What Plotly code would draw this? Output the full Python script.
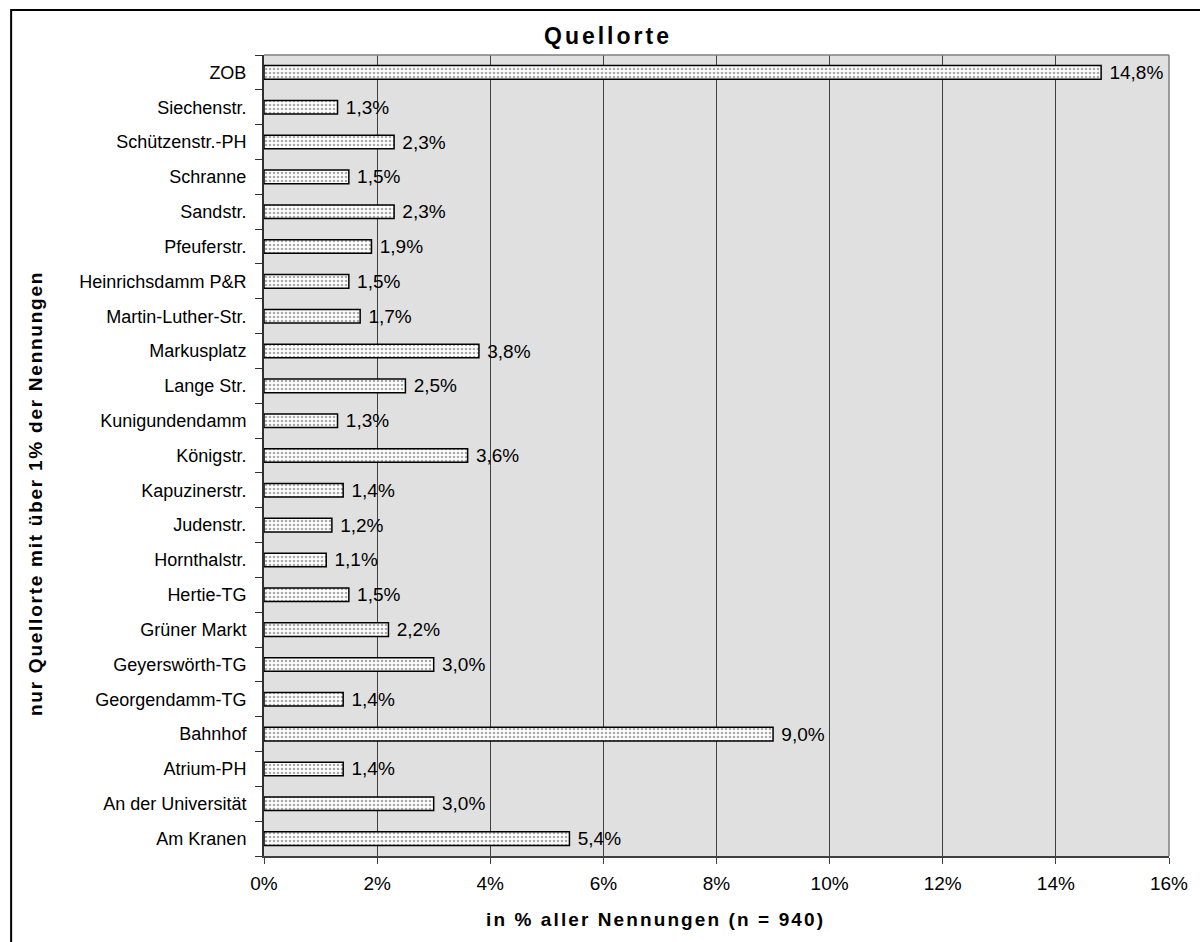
import plotly.graph_objects as go

# Source locations (bottom to top) and share of all mentions in percent
orte = [
    "Am Kranen", "An der Universität", "Atrium-PH", "Bahnhof", "Georgendamm-TG",
    "Geyerswörth-TG", "Grüner Markt", "Hertie-TG", "Hornthalstr.", "Judenstr.",
    "Kapuzinerstr.", "Königstr.", "Kunigundendamm", "Lange Str.", "Markusplatz",
    "Martin-Luther-Str.", "Heinrichsdamm P&R", "Pfeuferstr.", "Sandstr.", "Schranne",
    "Schützenstr.-PH", "Siechenstr.", "ZOB",
]
anteile = [5.4, 3.0, 1.4, 9.0, 1.4, 3.0, 2.2, 1.5, 1.1, 1.2, 1.4, 3.6, 1.3, 2.5,
           3.8, 1.7, 1.5, 1.9, 2.3, 1.5, 2.3, 1.3, 14.8]

x_ticks = [0, 2, 4, 6, 8, 10, 12, 14, 16]


def spaced(txt, px):
    """Wrap text in a span with extra letter spacing."""
    return f'<span style="letter-spacing:{px}px">{txt}</span>'


x_ticktext = [f"{v}%" for v in x_ticks]
labels = [" " + f"{v:.1f}%".replace(".", ",") for v in anteile]

FONT = "Liberation Sans, Arial, sans-serif"

fig = go.Figure()
fig.add_trace(go.Bar(
    x=anteile,
    y=orte,
    orientation="h",
    width=0.39,
    marker=dict(
        color="white",
        line=dict(color="black", width=1.5),
        pattern=dict(shape=".", fgcolor="#555555", bgcolor="white", size=4, solidity=0.35),
    ),
    text=labels,
    textposition="outside",
    constraintext="none",
    textfont=dict(family=FONT, size=19, color="black"),
    cliponaxis=False,
    hoverinfo="skip",
))

W, H = 1200, 942
L, R, T, B = 264, 27, 55, 86
pw, ph = W - L - R, H - T - B


def px_x(p):
    return (p - L) / pw


def px_y(p):
    return (H - B - p) / ph


fig.update_layout(
    width=W, height=H,
    margin=dict(l=L, r=R, t=T, b=B),
    paper_bgcolor="white",
    plot_bgcolor="#e0e0e0",
    showlegend=False,
    font=dict(family=FONT, size=18, color="black"),
    xaxis=dict(
        range=[0, 16],
        tickvals=x_ticks,
        ticktext=x_ticktext,
        showgrid=True,
        gridcolor="#404040",
        gridwidth=1,
        zeroline=False,
        showline=True,
        linecolor="#404040",
        linewidth=2,
        ticks="outside",
        ticklen=6,
        tickcolor="#404040",
        tickfont=dict(size=19),
        ticklabelstandoff=3,
        fixedrange=True,
    ),
    yaxis=dict(
        type="category",
        categoryorder="array",
        categoryarray=orte,
        range=[-0.5, len(orte) - 0.5],
        showgrid=False,
        showline=True,
        linecolor="#303030",
        linewidth=2,
        ticks="outside",
        tickson="boundaries",
        ticklen=7,
        tickcolor="#303030",
        tickfont=dict(size=18),
        ticksuffix="  ",
        ticklabelstandoff=2,
        fixedrange=True,
    ),
    shapes=[
        # outer frame of the chart
        dict(type="rect", xref="paper", yref="paper",
             x0=px_x(10), y0=px_y(960), x1=px_x(1220), y1=px_y(10),
             line=dict(color="black", width=2), fillcolor="rgba(0,0,0,0)", layer="below"),
        # grey border on top and right of the plot area
        dict(type="line", xref="paper", yref="paper", x0=0, y0=1, x1=1, y1=1,
             line=dict(color="#808080", width=1.5)),
        dict(type="line", xref="paper", yref="paper", x0=1, y0=0, x1=1, y1=1,
             line=dict(color="#808080", width=1.5)),
    ],
    annotations=[
        dict(text="<b>" + spaced("Quellorte", 3) + "</b>", xref="paper", yref="paper",
             x=px_x(610), y=px_y(36), showarrow=False,
             font=dict(size=23), xanchor="center", yanchor="middle"),
        dict(text="<b>" + spaced("in % aller Nennungen (n = 940)", 2.1) + "</b>",
             xref="paper", yref="paper",
             x=px_x(657), y=px_y(919), showarrow=False,
             font=dict(size=19), xanchor="center", yanchor="middle"),
        dict(text="<b>" + spaced("nur Quellorte mit über 1% der Nennungen", 1.75) + "</b>",
             xref="paper", yref="paper",
             x=px_x(34), y=px_y(494), showarrow=False, textangle=-90,
             font=dict(size=19), xanchor="center", yanchor="middle"),
    ],
)

fig.write_html("out.html")
